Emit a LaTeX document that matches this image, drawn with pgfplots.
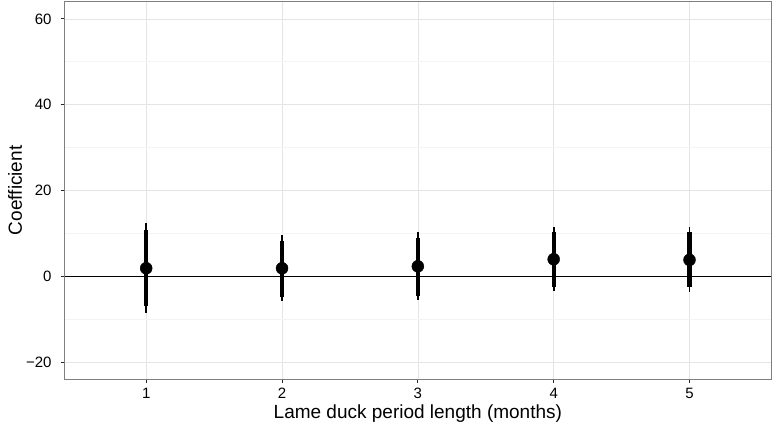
\documentclass[border=0pt]{standalone}
\usepackage{pgfplots}
\usepackage{pgfplotstable}
\pgfplotsset{compat=1.18}
\usepackage{fontspec}
\setmainfont{Liberation Sans}
\definecolor{gridmaj}{HTML}{E5E5E5}
\definecolor{gridmin}{HTML}{F4F4F4}
\definecolor{border}{HTML}{7F7F7F}
\pgfplotstableread{
x y lo1 hi1 lo2 hi2
1 1.9  -8.6 12.4 -7.0 10.7
2 1.9  -5.7  9.7 -4.7  8.3
3 2.35 -5.6 10.3 -4.5  8.9
4 4.0  -3.5 11.6 -2.5 10.4
5 3.85 -3.7 11.5 -2.5 10.4
}\coefs
\begin{document}
\begin{tikzpicture}
\begin{axis}[
  at={(0,0)}, anchor=south west,
  width=706.3bp, height=377.3bp, scale only axis,
  xmin=0.4, xmax=5.6, ymin=-23.9, ymax=64.0,
  xtick={1,2,3,4,5},
  ytick={-20,0,20,40,60},
  yticklabels={−20,0,20,40,60},
  minor ytick={-10,10,30,50},
  grid=both,
  major grid style={draw=gridmaj, line width=0.7bp},
  minor grid style={draw=gridmin, line width=0.7bp},
  axis line style={draw=border, line width=0.9bp},
  tick align=outside, major tick length=4bp, minor tick length=0pt,
  xtick pos=bottom, ytick pos=left,
  tick style={draw=black!85, line width=0.9bp},
  /pgf/number format/assume math mode=true,
  tick label style={font=\fontsize{15bp}{17bp}\selectfont, text=black},
  xticklabel style={anchor=base, yshift=-15bp},
  yticklabel style={anchor=east, inner sep=0pt, xshift=-9bp},
  xlabel={Lame duck period length (months)},
  ylabel={Coefficient},
  label style={font=\fontsize{19bp}{21bp}\selectfont},
  xlabel style={at={(axis description cs:0.5,0)}, anchor=base, yshift=-39bp},
  ylabel style={at={(axis description cs:-0.0605,0.5)}, anchor=base, rotate=0},
]
\addplot[black, line width=1.1bp, forget plot] coordinates {(0.4,0) (5.6,0)};
\addplot[draw=none, mark=none, forget plot,
  error bars/.cd, y dir=both, y explicit, error mark=none,
  error bar style={draw=black, line width=1.8bp}]
  table[x=x, y=y, y error plus expr=\thisrow{hi1}-\thisrow{y}, y error minus expr=\thisrow{y}-\thisrow{lo1}] {\coefs};
\addplot[draw=none, mark=none, forget plot,
  error bars/.cd, y dir=both, y explicit, error mark=none,
  error bar style={draw=black, line width=4.2bp}]
  table[x=x, y=y, y error plus expr=\thisrow{hi2}-\thisrow{y}, y error minus expr=\thisrow{y}-\thisrow{lo2}] {\coefs};
\addplot[only marks, mark=*, mark size=6bp, black] table[x=x, y=y] {\coefs};
\end{axis}
\pgfresetboundingbox
\useasboundingbox (-64.7bp,-49bp) rectangle (709.3bp,379bp);
\end{tikzpicture}
\end{document}
